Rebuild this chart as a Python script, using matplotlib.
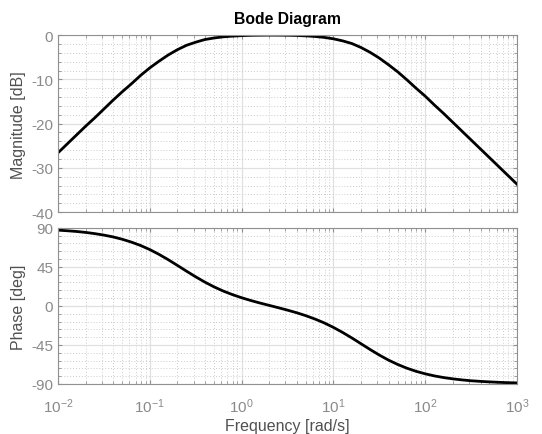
import matplotlib
matplotlib.use("Agg")
import matplotlib.pyplot as plt
import matplotlib.ticker as ticker
import numpy as np

plt.rcParams['font.family'] = ['Liberation Sans', 'DejaVu Sans']
plt.rcParams['mathtext.fontset'] = 'custom'
plt.rcParams['mathtext.rm'] = 'Liberation Sans'
plt.rcParams['mathtext.it'] = 'Liberation Sans'
plt.rcParams['axes.unicode_minus'] = False

# frequency points, 10 per decade from 1e-2 to 1e3 (rad/s)
freq_exp = [-2.0, -1.9, -1.8, -1.7, -1.6, -1.5, -1.4, -1.3, -1.2, -1.1,
            -1.0, -0.9, -0.8, -0.7, -0.6, -0.5, -0.4, -0.3, -0.2, -0.1,
            0.0, 0.1, 0.2, 0.3, 0.4, 0.5, 0.6, 0.7, 0.8, 0.9,
            1.0, 1.1, 1.2, 1.3, 1.4, 1.5, 1.6, 1.7, 1.8, 1.9,
            2.0, 2.1, 2.2, 2.3, 2.4, 2.5, 2.6, 2.7, 2.8, 2.9, 3.0]

# magnitude [dB]
magnitude = [-26.6, -24.6, -22.6, -20.6, -18.7, -16.7, -14.7, -12.8, -11.0, -9.1,
             -7.4, -5.9, -4.5, -3.3, -2.3, -1.6, -1.0, -0.65, -0.39, -0.23,
             -0.12, -0.05, -0.02, 0.0, -0.01, -0.03, -0.08, -0.17, -0.31, -0.52,
             -0.84, -1.3, -1.9, -2.8, -3.9, -5.2, -6.7, -8.3, -10.1, -12.0,
             -13.8, -15.8, -17.7, -19.7, -21.7, -23.7, -25.7, -27.7, -29.7, -31.7, -33.7]

# phase [deg]
phase = [87.3, 86.6, 85.8, 84.7, 83.3, 81.6, 79.5, 76.8, 73.5, 69.6,
         64.9, 59.4, 53.3, 46.7, 40.0, 33.5, 27.4, 21.9, 17.1, 13.0,
         9.4, 6.2, 3.3, 0.6, -2.1, -4.9, -7.9, -11.3, -15.2, -19.6,
         -24.8, -30.6, -36.9, -43.6, -50.3, -56.7, -62.5, -67.5, -71.8, -75.4,
         -78.3, -80.7, -82.6, -84.1, -85.3, -86.3, -87.0, -87.6, -88.1, -88.5, -88.8]

freq = 10.0 ** np.array(freq_exp)

tick_grey = '#8a8a8a'
label_grey = '#505050'
fig = plt.figure(figsize=(5.42, 4.35), dpi=100)
ax1 = fig.add_axes([0.107, 0.510, 0.847, 0.407])
ax2 = fig.add_axes([0.107, 0.115, 0.847, 0.359])

def style(ax):
    ax.set_xscale('log')
    ax.set_xlim(1e-2, 1e3)
    ax.grid(which='major', color='#e0e0e0', linestyle='-', linewidth=0.9)
    ax.grid(which='minor', color='#cccccc', linestyle=(0, (1, 2)), linewidth=0.7)
    for s in ax.spines.values():
        s.set_color('#909090')
    ax.tick_params(which='both', direction='in', colors='#909090',
                   labelcolor=tick_grey, labelsize=11, top=True, right=True)
    ax.tick_params(which='major', length=3)
    ax.tick_params(which='minor', length=2)
    ax.set_axisbelow(True)

ax1.plot(freq, magnitude, color='black', linewidth=2)
style(ax1)
ax1.set_ylim(-40, 0)
ax1.set_yticks([-40, -30, -20, -10, 0])
ax1.yaxis.set_minor_locator(ticker.MultipleLocator(2))
ax1.tick_params(which='both', labelbottom=False)
ax1.set_ylabel('Magnitude [dB]', color=label_grey, fontsize=11.5, labelpad=4)
ax1.set_title('Bode Diagram', fontweight='bold', fontsize=11.3, pad=9)

ax2.plot(freq, phase, color='black', linewidth=2)
style(ax2)
ax2.set_ylim(-90, 90)
ax2.set_yticks([-90, -45, 0, 45, 90])
ax2.yaxis.set_minor_locator(ticker.MultipleLocator(9))
ax2.tick_params(axis='x', which='major', pad=9)
ax2.set_ylabel('Phase [deg]', color=label_grey, fontsize=11.5, labelpad=4)
ax2.set_xlabel('Frequency [rad/s]', color=label_grey, fontsize=11.5, labelpad=2)

fig.savefig('out.png', dpi=100)
